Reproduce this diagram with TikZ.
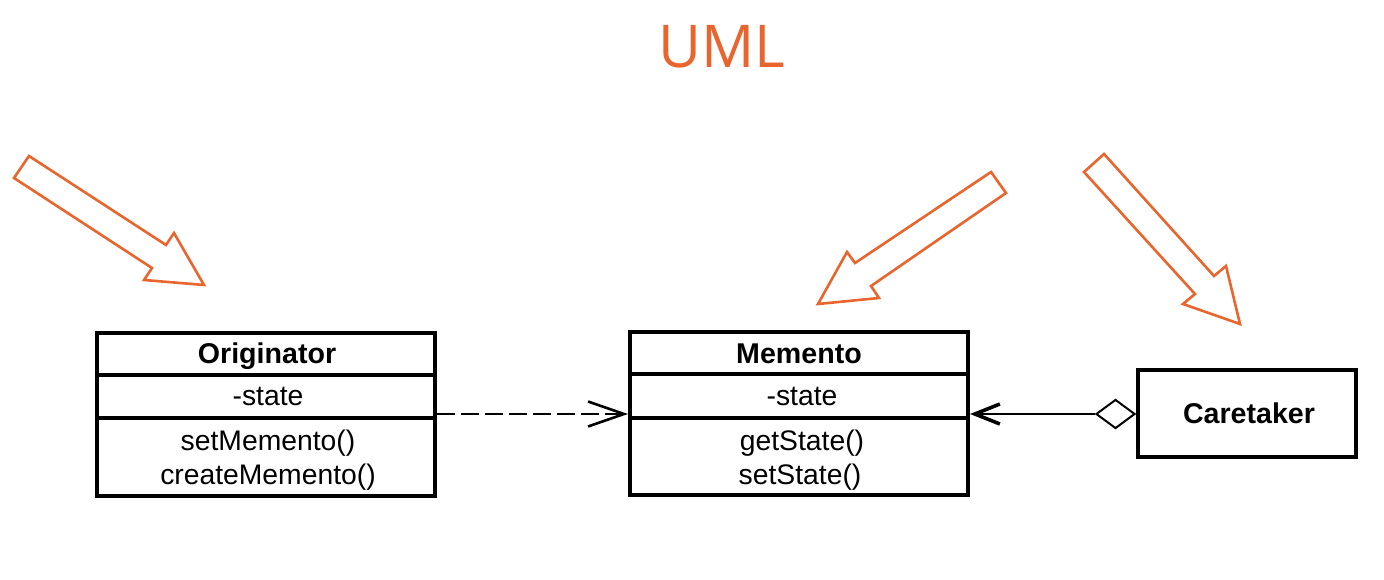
\documentclass[tikz,border=0pt]{standalone}
\usepackage{fontspec}
\setmainfont{Liberation Sans}
\newfontfamily\titlefont{Open Sans}
\usetikzlibrary{arrows.meta,shapes.geometric}
\definecolor{orangeui}{RGB}{232,102,46}
\tikzset{
  classbox/.style={draw=black, line width=4pt, fill=white, inner sep=0pt},
  divider/.style={line width=3.6pt},
  ctext/.style={anchor=base, inner sep=0pt, font=\fontsize{28.3}{32}\selectfont},
  cname/.style={anchor=base, inner sep=0pt, font=\fontsize{28.6}{32}\selectfont\bfseries},
  pointer/.style={draw=orangeui, line width=2.6pt, line join=miter},
  depend/.style={line width=2.6pt, dash pattern=on 18pt off 6pt, -{Straight Barb[length=36pt,width=25pt,line width=2.6pt]}},
  assoc/.style={line width=2.6pt, -{Straight Barb[length=25pt,width=20pt,line width=3.6pt]}},
  aggdiamond/.style={diamond, draw=black, line width=2pt, fill=white, inner sep=0pt, minimum width=39pt, minimum height=29pt}
}
\begin{document}
\begin{tikzpicture}[x=1pt,y=-1pt]
\useasboundingbox (0,0) rectangle (1384,580);
\fill[white] (0,0) rectangle (1384,580);
% title
\node[text=orangeui, font=\titlefont\fontsize{59}{66}\selectfont, inner sep=0pt, anchor=base] (title) at (722,68) {UML};
% orange pointer arrows
\draw[pointer] (29,156) -- (166,245) -- (174,233) -- (204,285) -- (144,280) -- (152,268) -- (14,178) -- cycle;
\draw[pointer] (991,172) -- (855,263) -- (847,252) -- (818,304) -- (879,298) -- (871,286) -- (1006,193) -- cycle;
\draw[pointer] (1104,154) -- (1214,276) -- (1226,266) -- (1240,324) -- (1183,304) -- (1195,294) -- (1084,172) -- cycle;
% Originator
\node[classbox, minimum width=338pt, minimum height=163pt] (orig) at (266,414.5) {};
\draw[divider] (orig.west |- 0,375) -- (orig.east |- 0,375);
\draw[divider] (orig.west |- 0,418) -- (orig.east |- 0,418);
\node[cname] (origName) at (267,363) {Originator};
\node[ctext] (origAttr) at (268,405) {-state};
\node[ctext] (origM1) at (268,450) {setMemento()};
\node[ctext] (origM2) at (268,484) {createMemento()};
% Memento
\node[classbox, minimum width=338pt, minimum height=163pt] (mem) at (799,413.5) {};
\draw[divider] (mem.west |- 0,374) -- (mem.east |- 0,374);
\draw[divider] (mem.west |- 0,418) -- (mem.east |- 0,418);
\node[cname] (memName) at (799,363) {Memento};
\node[ctext] (memAttr) at (802,405) {-state};
\node[ctext] (memM1) at (802,450) {getState()};
\node[ctext] (memM2) at (800,484) {setState()};
% Caretaker
\node[classbox, minimum width=218pt, minimum height=87pt] (care) at (1247,413.5) {};
\node[cname] (careName) at (1249,423) {Caretaker};
% aggregation diamond
\node[aggdiamond, anchor=east] (dia) at (care.west |- 0,414) {};
% connectors
\draw[depend] (orig.east |- 0,414) -- (mem.west |- 0,414);
\draw[assoc] (dia.west) -- (mem.east |- dia.west);
\end{tikzpicture}
\end{document}
